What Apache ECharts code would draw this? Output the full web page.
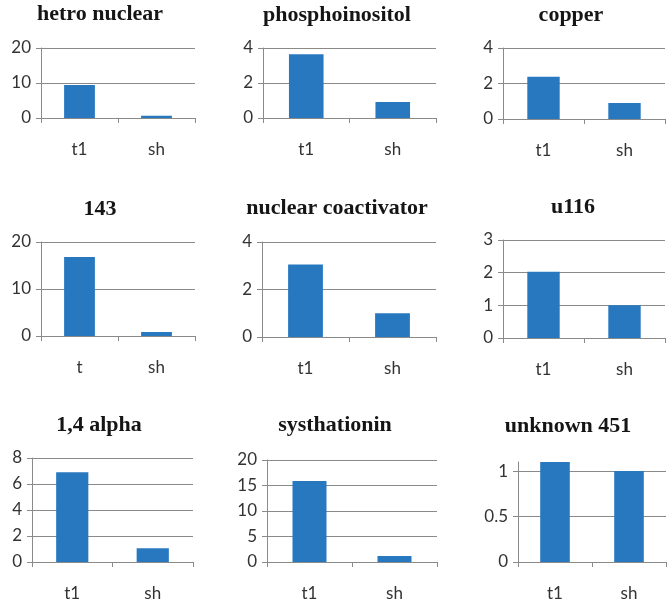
<!DOCTYPE html>
<html>
<head>
<meta charset="utf-8">
<script src="https://cdn.jsdelivr.net/npm/echarts@6/dist/echarts.min.js"></script>
<style>
    html, body { margin: 0; padding: 0; background: #fff; }
    #chart { width: 672px; height: 603px; }
</style>
</head>
<body>
<div id="chart"></div>
<script>
    // chart data
    var panelTitles = ['hetro nuclear', 'phosphoinositol', 'copper',
                       '143', 'nuclear coactivator', 'u116',
                       '1,4 alpha', 'systhationin', 'unknown 451'];
    var categoryLabels = [
        ['t1', 'sh'], ['t1', 'sh'], ['t1', 'sh'],
        ['t', 'sh'], ['t1', 'sh'], ['t1', 'sh'],
        ['t1', 'sh'], ['t1', 'sh'], ['t1', 'sh']
    ];
    var firstValues = [9.4, 3.65, 2.38, 16.8, 3.05, 2.03, 6.9, 15.9, 1.1];
    var shValues = [0.65, 0.92, 0.9, 0.85, 1.0, 1.0, 1.05, 1.2, 1.0];
    var yMax = [20, 4, 4, 20, 4, 3, 8, 20, 1.1];
    var yStep = [10, 2, 2, 10, 2, 1, 2, 5, 0.5];

    // layout: [left, top, width, height] of each plot, title centre
    var gridBoxes = [
        [41, 48, 154, 70], [263, 48, 173, 70], [503, 48, 162, 71],
        [41, 242, 154, 94], [262, 242, 174, 95], [503, 240, 162, 98],
        [32, 458, 161, 104], [267, 460, 170, 102], [518, 462, 148, 100]
    ];
    var titlePos = [
        [100, 14], [337, 15], [571, 15],
        [100, 209], [337, 208], [573, 207],
        [99, 425], [335, 425], [568, 426]
    ];

    var lineColor = '#8a8a8a';
    var labelColor = '#333';
    var barColor = '#2878c0';

    var option = {
        animation: false,
        backgroundColor: '#fff',
        grid: [], xAxis: [], yAxis: [], series: [], graphic: []
    };

    panelTitles.forEach(function (name, i) {
        var b = gridBoxes[i];
        var evenTop = yMax[i] % yStep[i] === 0;
        option.grid.push({ left: b[0], top: b[1], width: b[2], height: b[3], containLabel: false });
        option.xAxis.push({
            type: 'category',
            gridIndex: i,
            data: categoryLabels[i],
            axisLine: { lineStyle: { color: lineColor, width: 1 } },
            axisTick: { show: true, length: 5, lineStyle: { color: lineColor } },
            axisLabel: { margin: 23, color: labelColor, fontFamily: 'Lato', fontSize: 17 }
        });
        option.yAxis.push({
            type: 'value',
            gridIndex: i,
            min: 0,
            max: yMax[i],
            interval: yStep[i],
            axisLine: { show: true, lineStyle: { color: lineColor, width: 1 } },
            axisTick: { show: true, length: 5, lineStyle: { color: lineColor } },
            splitLine: { show: true, showMaxLine: evenTop, lineStyle: { color: lineColor, width: 1 } },
            axisLabel: {
                margin: 10, color: labelColor, fontFamily: 'Lato', fontSize: 17,
                showMaxLabel: evenTop
            }
        });
        option.series.push({
            type: 'bar',
            xAxisIndex: i,
            yAxisIndex: i,
            barWidth: '40%',
            itemStyle: { color: barColor },
            data: [firstValues[i], shValues[i]]
        });
        option.graphic.push({
            type: 'text',
            x: titlePos[i][0],
            y: titlePos[i][1],
            style: {
                text: name,
                fill: '#151515',
                font: 'bold 22px "Liberation Serif"',
                align: 'center', verticalAlign: 'middle',
                textAlign: 'center', textVerticalAlign: 'middle'
            }
        });
    });

    var chart = echarts.init(document.getElementById('chart'));
    chart.setOption(option);
</script>
</body>
</html>
